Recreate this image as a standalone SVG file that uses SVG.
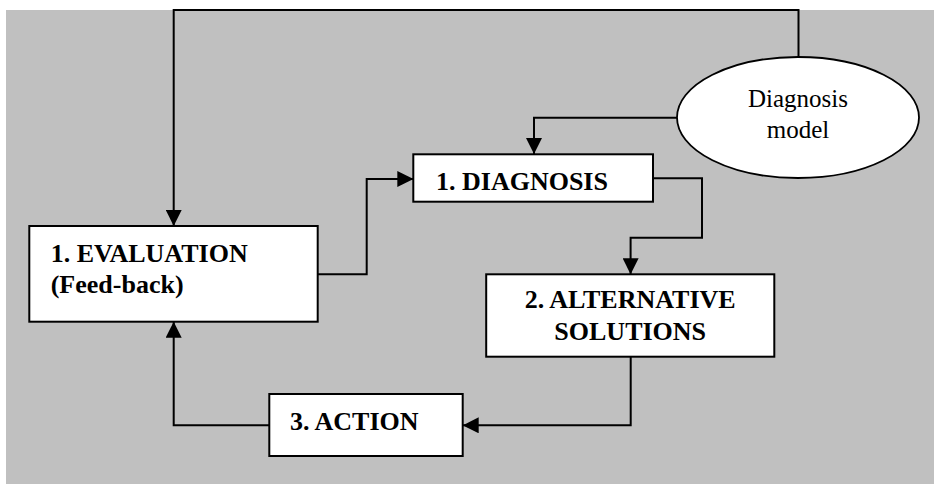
<svg xmlns="http://www.w3.org/2000/svg" width="934" height="484" viewBox="0 0 934 484">
<style>
.box{fill:#ffffff;stroke:#000000;stroke-width:2}
.lbl{font-family:'Liberation Serif','DejaVu Serif',serif;font-weight:bold;font-size:26px;fill:#000000}
.reg{font-family:'Liberation Serif','DejaVu Serif',serif;font-size:25px;fill:#000000}
.con{fill:none;stroke:#000000;stroke-width:2}
</style>
<defs>
<marker id="arr" viewBox="0 0 16 16" refX="16" refY="8" markerWidth="16" markerHeight="16" markerUnits="userSpaceOnUse" orient="auto">
<path d="M0,0 L16,8 L0,16 Z" fill="#000000"/>
</marker>
</defs>
<rect x="6" y="10" width="928" height="474" fill="#c0c0c0"/>
<g id="connectors">
<path class="con" d="M798.5,57 V10 H173.7 V226" marker-end="url(#arr)"/>
<path class="con" d="M677,117.7 H534 V154" marker-end="url(#arr)"/>
<path class="con" d="M317.7,274.3 H366.7 V179 H413.3" marker-end="url(#arr)"/>
<path class="con" d="M653,178.3 H702 V237.7 H630.6 V274.3" marker-end="url(#arr)"/>
<path class="con" d="M630.7,356.7 V425.3 H462.7" marker-end="url(#arr)"/>
<path class="con" d="M269.3,425.3 H173.7 V321.7" marker-end="url(#arr)"/>
</g>
<g id="diagnosis-model">
<ellipse cx="798" cy="117.5" rx="121" ry="60.5" fill="#ffffff" stroke="#000000" stroke-width="1.8"/>
<text class="reg" x="798" y="107" text-anchor="middle">Diagnosis</text>
<text class="reg" x="798" y="138" text-anchor="middle">model</text>
</g>
<g id="diagnosis">
<rect class="box" x="413.3" y="154.3" width="239.7" height="47.4"/>
<text class="lbl" x="436" y="190">1. DIAGNOSIS</text>
</g>
<g id="evaluation">
<rect class="box" x="29.3" y="226" width="288.4" height="95.7"/>
<text class="lbl" x="50.7" y="261.7">1. EVALUATION</text>
<text class="lbl" x="50.7" y="292.7">(Feed-back)</text>
</g>
<g id="alternatives">
<rect class="box" x="486.2" y="274.3" width="288.1" height="82.4"/>
<text class="lbl" x="630.2" y="308.3" text-anchor="middle">2. ALTERNATIVE</text>
<text class="lbl" x="630.2" y="340" text-anchor="middle">SOLUTIONS</text>
</g>
<g id="action">
<rect class="box" x="269.3" y="394" width="193.4" height="62"/>
<text class="lbl" x="290" y="430">3. ACTION</text>
</g>
</svg>
